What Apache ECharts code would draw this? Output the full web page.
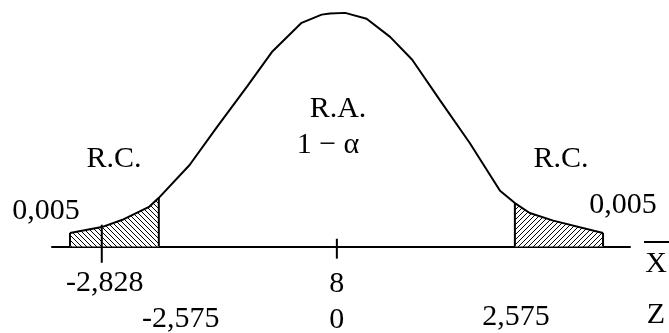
<!DOCTYPE html>
<html>
<head>
<meta charset="utf-8">
<script src="https://cdn.jsdelivr.net/npm/echarts@6/dist/echarts.min.js"></script>
<style>
html,body{margin:0;padding:0;background:#fff;}
#chart{width:669px;height:333px;}
</style>
</head>
<body>
<div id="chart"></div>
<script>
// ---- data ----
const curveZ = [-3.86, -3.40, -3.11, -2.71, -2.575, -2.13, -1.74, -1.30, -0.94, -0.51, -0.22, -0.10, 0.12, 0.43, 0.77, 1.09, 1.49, 1.92, 2.36, 2.575, 2.79, 3.13, 3.85];
const curveY = [0.023, 0.033, 0.045, 0.068, 0.083, 0.139, 0.203, 0.273, 0.332, 0.382, 0.396, 0.398, 0.399, 0.389, 0.358, 0.319, 0.250, 0.177, 0.095, 0.074, 0.057, 0.044, 0.023];
const critLeft = -2.575;
const critRight = 2.575;
const centerZ = 0;
const sampleZ = -3.40;          // drawn position of the -2,828 mark
const tickLabelsTop = ['-2,828', '8'];
const tickLabelsBottom = ['-2,575', '0', '2,575'];
const tailLabel = '0,005';
const regionLabels = ['R.C.', 'R.A.', '1 \u2212 \u03b1', 'R.C.'];
const axisNames = ['X', 'Z'];

// ---- helpers ----
const FONT = "'Liberation Serif','Times New Roman',serif";
const FS = 30;
function hatch(dir) {
  const s = 5;
  const c = document.createElement('canvas');
  c.width = s; c.height = s;
  const g = c.getContext('2d');
  g.fillStyle = '#fff'; g.fillRect(0, 0, s, s);
  g.strokeStyle = '#000'; g.lineWidth = 1;
  g.beginPath();
  if (dir > 0) {
    g.moveTo(0, s); g.lineTo(s, 0);
    g.moveTo(-1, 1); g.lineTo(1, -1);
    g.moveTo(s - 1, s + 1); g.lineTo(s + 1, s - 1);
  } else {
    g.moveTo(0, 0); g.lineTo(s, s);
    g.moveTo(-1, s - 1); g.lineTo(1, s + 1);
    g.moveTo(s - 1, -1); g.lineTo(s + 1, 1);
  }
  g.stroke();
  return c;
}
const pts = curveZ.map((z, i) => [z, curveY[i]]);
const leftTail = pts.filter(p => p[0] <= critLeft);
const rightTail = pts.filter(p => p[0] >= critRight);
const yAt = z => { const p = pts.find(q => q[0] === z); return p ? p[1] : 0; };
const seg = (data, w) => ({
  type: 'line', data: data, symbol: 'none', silent: true, animation: false,
  lineStyle: { color: '#000', width: w === undefined ? 2 : w }, z: 5
});

const chart = echarts.init(document.getElementById('chart'), null, { renderer: 'canvas' });
chart.setOption({
  backgroundColor: '#fff',
  animation: false,
  grid: { left: 52, right: 39, top: 0, bottom: 0 },
  xAxis: {
    type: 'value', min: -4.12, max: 4.24,
    axisLine: { show: true, onZero: true, lineStyle: { color: '#000', width: 2 } },
    axisTick: { show: false }, axisLabel: { show: false }, splitLine: { show: false }
  },
  yAxis: { type: 'value', min: -0.148, max: 0.421, show: false },
  series: [
    { type: 'line', data: leftTail, symbol: 'none', silent: true, z: 2,
      lineStyle: { width: 0 }, areaStyle: { color: { image: hatch(-1), repeat: 'repeat' }, opacity: 1 } },
    { type: 'line', data: rightTail, symbol: 'none', silent: true, z: 2,
      lineStyle: { width: 0 }, areaStyle: { color: { image: hatch(1), repeat: 'repeat' }, opacity: 1 } },
    seg(pts),
    seg([[curveZ[0], 0], [curveZ[0], curveY[0]]]),
    seg([[curveZ[curveZ.length - 1], 0], [curveZ[curveZ.length - 1], curveY[curveY.length - 1]]]),
    seg([[critLeft, 0], [critLeft, yAt(critLeft)]]),
    seg([[critRight, 0], [critRight, yAt(critRight)]]),
    seg([[centerZ, -0.021], [centerZ, 0.013]]),
    seg([[sampleZ, -0.028], [sampleZ, 0.037]])
  ]
});

const px = (z, y) => chart.convertToPixel({ gridIndex: 0 }, [z, y || 0]);
const txt = (s, x, y, align) => ({
  type: 'text', x: x, y: y, silent: true,
  style: { text: s, font: FS + 'px ' + FONT, fill: '#000', align: align || 'center', verticalAlign: 'middle' }
});
const base = px(0, 0)[1];
chart.setOption({
  graphic: [
    txt(tickLabelsTop[0], px(sampleZ)[0] + 3, base + 37),
    txt(tickLabelsTop[1], px(centerZ)[0], base + 38),
    txt(tickLabelsBottom[0], px(critLeft)[0] + 22, base + 73),
    txt(tickLabelsBottom[1], px(centerZ)[0], base + 74),
    txt(tickLabelsBottom[2], px(critRight)[0] + 1, base + 71),
    txt(tailLabel, 46, 211),
    txt(tailLabel, 623, 205),
    txt(regionLabels[0], 114, 159),
    txt(regionLabels[1], 338, 109),
    txt(regionLabels[2], 328, 145),
    txt(regionLabels[3], 561, 159),
    txt(axisNames[0], 656, 264),
    txt(axisNames[1], 656, 315),
    { type: 'line', silent: true, shape: { x1: 644, y1: 242, x2: 669, y2: 242 },
      style: { stroke: '#000', lineWidth: 2 } }
  ]
});
</script>
</body>
</html>
